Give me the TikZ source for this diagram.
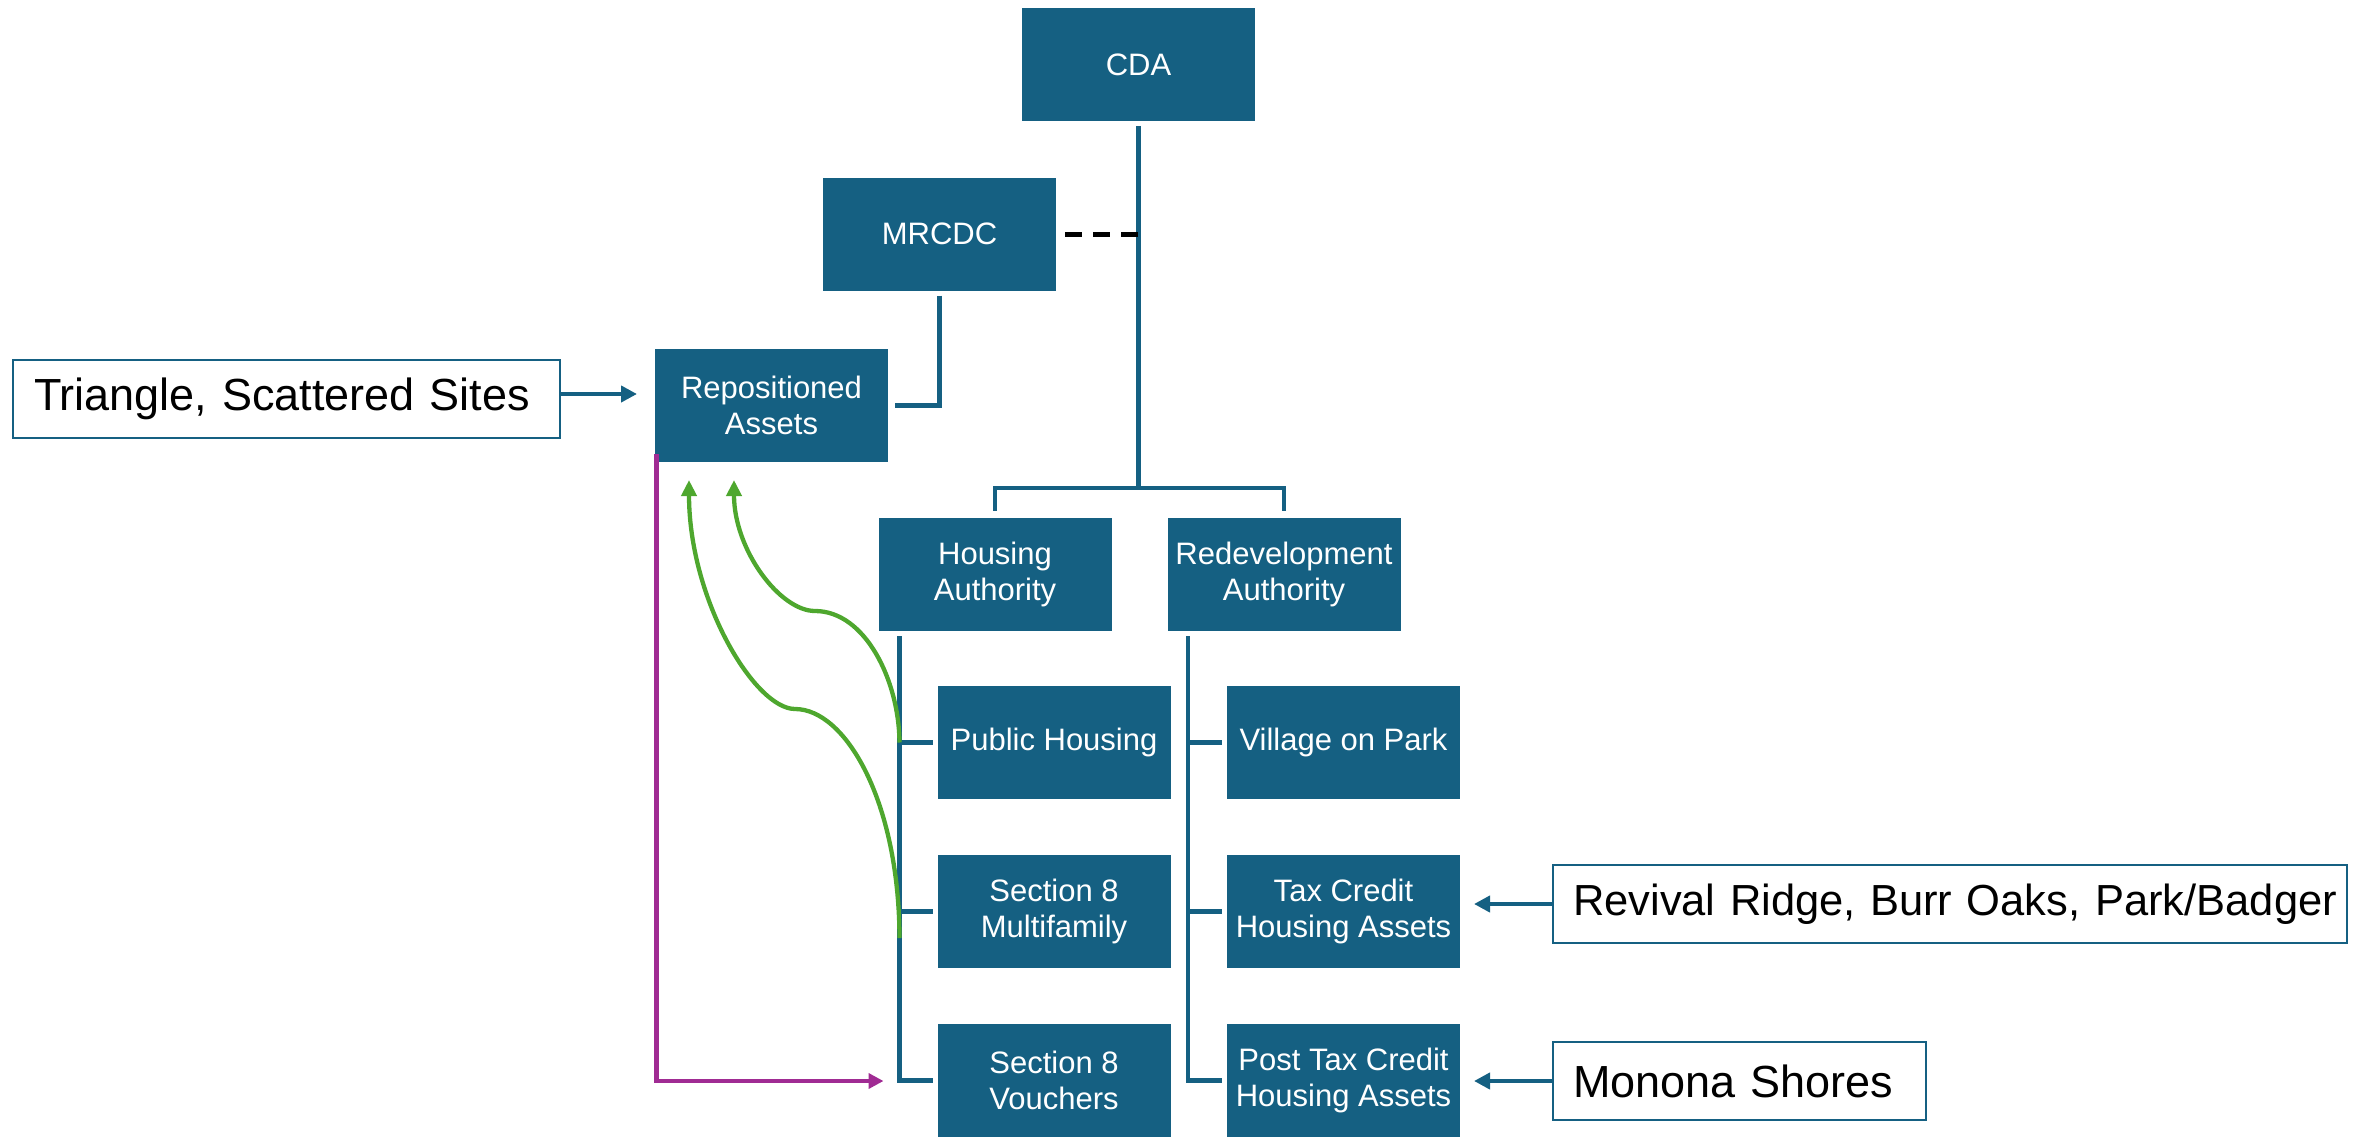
\documentclass[tikz,border=0pt]{standalone}
\usepackage{fontspec}
\setmainfont{Liberation Sans}
\usetikzlibrary{arrows.meta,calc}
\definecolor{teal1}{HTML}{156082}
\definecolor{green1}{HTML}{4EA72E}
\definecolor{purple1}{HTML}{A02B93}
\begin{document}
\begin{tikzpicture}[x=1pt,y=-1pt,
  orgbox/.style={fill=teal1, draw=white, line width=1pt, text=white, minimum width=234pt, minimum height=114pt, inner sep=0pt, align=center, font=\fontsize{31}{36}\selectfont},
  txtbox/.style={draw=teal1, line width=2pt, fill=white, minimum height=78pt, inner xsep=0pt, inner ysep=0pt, anchor=west, align=left, font=\fontsize{45}{52}\selectfont},
  conn/.style={draw=teal1, line width=4.3pt},
  dashconn/.style={draw=black, line width=5pt, dash pattern=on 17pt off 11pt},
  tarrow/.style={draw=teal1, line width=4pt, -{Triangle[length=16pt,width=16pt]}},
  garrow/.style={draw=green1, line width=4.3pt, -{Triangle[length=16pt,width=15pt]}},
  parrow/.style={draw=purple1, line width=4.3pt, -{Triangle[length=15pt,width=15pt]}}
]
\useasboundingbox (0,0) rectangle (2369,1137);

\node[orgbox] (cda) at (1138.5,64.5) {CDA};
\node[orgbox] (mrcdc) at (939.5,234) {MRCDC};
\node[orgbox] (rep) at (771.5,405.5) {Repositioned\\Assets};
\node[orgbox] (ha) at (995,574) {Housing\\Authority};
\node[orgbox] (ra) at (1284,574) {Redevelopment\\Authority};
\node[orgbox] (ph) at (1054,742.5) {Public Housing};
\node[orgbox] (s8m) at (1054,911.5) {Section 8\\Multifamily};
\node[orgbox] (s8v) at (1054,1080.5) {Section 8\\Vouchers};
\node[orgbox] (vop) at (1343.5,742.5) {Village on Park};
\node[orgbox] (tax) at (1343.5,911.5) {Tax Credit\\Housing Assets};
\node[orgbox] (post) at (1343.5,1080.5) {Post Tax Credit\\Housing Assets};

\node[txtbox, text width=547pt] (tri) at (12,399) {\hspace*{21pt}\mbox{Triangle, Scattered Sites}};
\node[txtbox, text width=794pt, font=\fontsize{43.5}{52}\selectfont] (rev) at (1552,904) {\hspace*{20pt}\mbox{Revival Ridge, Burr Oaks, Park/Badger}};
\node[txtbox, text width=373pt] (mon) at (1552,1081) {\hspace*{20pt}\mbox{Monona Shores}};

\coordinate (bus) at (1138.5,488);
\coordinate (hat) at (899.5,636);
\coordinate (rat) at (1188,636);

\draw[conn] ([yshift=-4pt]cda.south) -- (bus);
\draw[conn] ([yshift=6pt]ha.north) |- (bus) -| ([yshift=6pt]ra.north);
\draw[dashconn] ([xshift=8pt]mrcdc.east) -- (mrcdc.east -| bus);
\draw[conn] ([yshift=-4pt]mrcdc.south) |- ([xshift=6pt]rep.east);

\draw[conn] (hat) |- ([xshift=-4pt]s8v.west);
\draw[conn] (hat |- ph.west) -- ([xshift=-4pt]ph.west);
\draw[conn] (hat |- s8m.west) -- ([xshift=-4pt]s8m.west);
\draw[conn] (rat) |- ([xshift=-4pt]post.west);
\draw[conn] (rat |- vop.west) -- ([xshift=-4pt]vop.west);
\draw[conn] (rat |- tax.west) -- ([xshift=-4pt]tax.west);

\draw[tarrow] ([yshift=5pt]tri.east) -- ($(rep.west)+(-17,-11.5)$);
\draw[tarrow] (rev.west) -- ($(rev.west -| tax.east)+(13,0)$);
\draw[tarrow] (mon.west) -- ($(mon.west -| post.east)+(13,0)$);

\draw[parrow] ($(rep.south west)+(2.5,-9)$) |- ($(s8v.west)+(-53,0.5)$);

\draw[garrow] (hat |- ph.west) .. controls (899,680) and (865,611) .. (815,611) .. controls (780,611) and (734,550) .. ($(rep.south)+(-37.5,17)$);
\draw[garrow] ($(hat)+(0,302)$) .. controls (899,800) and (845,709) .. (795,709) .. controls (755,709) and (689,600) .. ($(rep.south)+(-82.5,17)$);
\end{tikzpicture}
\end{document}
